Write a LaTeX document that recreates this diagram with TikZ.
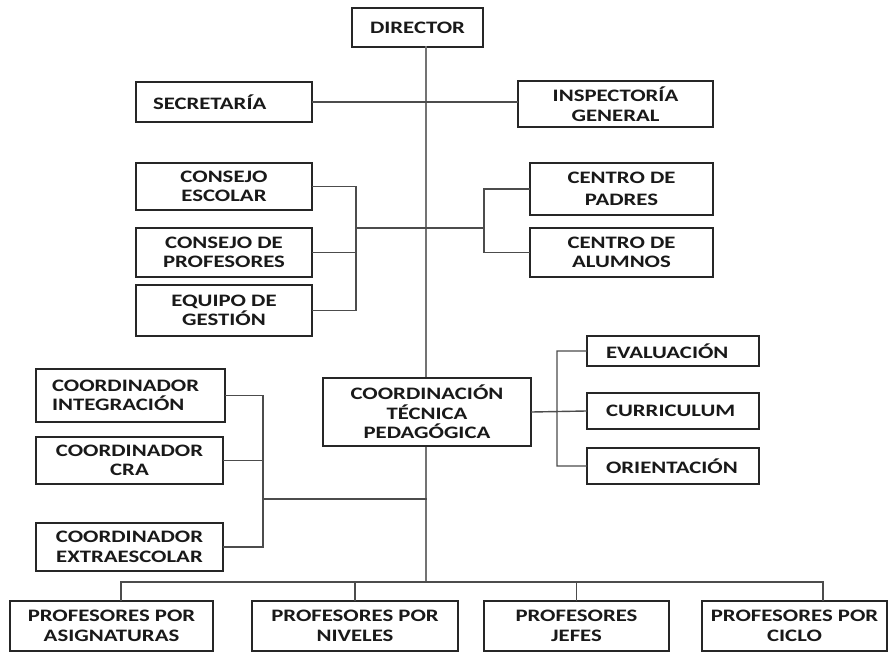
\documentclass[tikz,border=0pt]{standalone}
\usepackage{fontspec}
\setmainfont[FakeStretch=1.3]{Carlito}
\begin{document}
\begin{tikzpicture}[x=1pt, y=-1pt, line cap=rect, line join=miter,
	font=\fontsize{17.5}{19.5}\selectfont\bfseries,
	cargo/.style={draw=black!85, line width=1.4pt, fill=white, text=black!90, align=center, inner sep=2pt},
	izq/.style={cargo, align=left, text width=#1, inner xsep=17pt},
	enlace/.style={draw=black!70, line width=1.4pt},
	tronco/.style={draw=black!55, line width=2.6pt}]
	\useasboundingbox (0,0) rectangle (888,652);
	% nodos de la parte alta
	\node[cargo, minimum width=131, minimum height=39] (dir) at (417.5,27.5) {DIRECTOR};
	\node[izq=142pt, minimum height=40] (sec) at (224,102) {SECRETARÍA};
	\node[cargo, minimum width=195, minimum height=46] (insp) at (615.5,104) {INSPECTORÍA\\GENERAL};
	\node[cargo, minimum width=176, minimum height=47] (ces) at (224,186.5) {CONSEJO\\ESCOLAR};
	\node[cargo, minimum width=176, minimum height=49] (cpr) at (224,252.5) {CONSEJO DE\\PROFESORES};
	\node[cargo, minimum width=176, minimum height=51] (eqg) at (224,310.5) {EQUIPO DE\\GESTIÓN};
	\node[cargo, minimum width=183, minimum height=52] (cpa) at (621.5,189) {CENTRO DE\\[3pt]PADRES};
	\node[cargo, minimum width=183, minimum height=49] (cal) at (621.5,252.5) {CENTRO DE\\ALUMNOS};
	% coordinaciones
	\node[izq=157pt, minimum height=53, inner xsep=16pt] (cin) at (130.5,395.5) {COORDINADOR\\INTEGRACIÓN};
	\node[cargo, minimum width=187, minimum height=47] (ccra) at (129.5,460.5) {COORDINADOR\\CRA};
	\node[cargo, minimum width=187, minimum height=48] (cext) at (129.5,547) {COORDINADOR\\EXTRAESCOLAR};
	\node[izq=134pt, minimum height=30, inner xsep=19pt] (eva) at (673,351) {EVALUACIÓN};
	\node[izq=134pt, minimum height=36, inner xsep=19pt] (cur) at (673,411) {CURRICULUM};
	\node[izq=134pt, minimum height=36, inner xsep=19pt] (ori) at (673,466) {ORIENTACIÓN};
	% profesores
	\node[cargo, minimum width=203, minimum height=50] (pa) at (111.5,626) {PROFESORES POR\\ASIGNATURAS};
	\node[cargo, minimum width=206, minimum height=50] (pn) at (355,626) {PROFESORES POR\\NIVELES};
	\node[cargo, minimum width=185, minimum height=50] (pj) at (576.5,626) {PROFESORES\\JEFES};
	\node[cargo, minimum width=185, minimum height=50] (pc) at (794.5,626) {PROFESORES POR\\CICLO};
	\coordinate (bus) at (426,582);
	\coordinate (lb) at (356,228);
	\coordinate (rb) at (484,228);
	\coordinate (cb) at (263,499);
	\coordinate (tb) at (557,412);
	\coordinate (bl) at (121,582);
	\coordinate (br) at (823,582);
	\path[tronco] (dir.south -| bus) -- (bus);
	\node[cargo, minimum width=208, minimum height=68] (ctp) at (427,412) {COORDINACIÓN\\TÉCNICA\\PEDAGÓGICA};
	% conectores
	\path[enlace] (sec.east) -- (sec.east -| insp.west);
	\path[enlace] (ces.east) -| (lb) (eqg.east) -| (lb) (cpr.east) -- (cpr.east -| lb);
	\path[enlace] (lb) -- (rb) (cpa.west) -| (rb) (cal.west) -| (rb);
	\path[enlace] (cin.east) -| (cb) (cext.east) -| (cb) (ccra.east) -- (ccra.east -| cb) (cb) -- (cb -| bus);
	\path[enlace] (ctp.east) -- (cur.west) (eva.west) -| (tb) (ori.west) -| (tb);
	\path[enlace] (bl) -- (br) (bl) -- (bl |- pa.north) (br) -- (br |- pc.north)
		(pn.north) -- (pn.north |- bl) (pj.north) -- (pj.north |- bl);
\end{tikzpicture}
\end{document}
